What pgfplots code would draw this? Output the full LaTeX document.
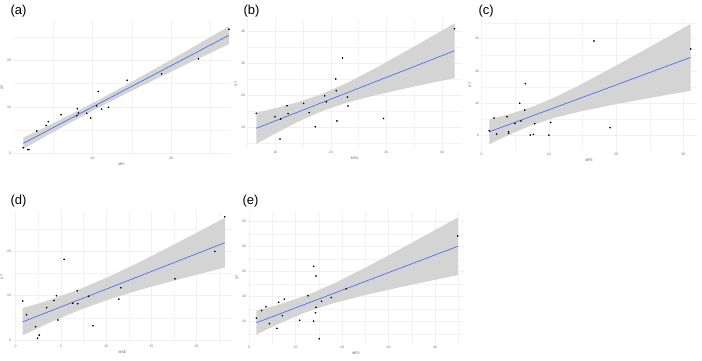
\documentclass[border=0pt]{standalone}
\usepackage{fontspec}
\setmainfont{Liberation Sans}
\usepackage{pgfplots}
\pgfplotsset{compat=1.18}
\definecolor{bandgray}{RGB}{212,212,212}
\definecolor{fitblue}{RGB}{51,102,255}
\definecolor{gridgray}{RGB}{240,240,240}
\pgfplotsset{panel/.style={scale only axis, anchor=south west,
  axis line style={draw=none}, tick style={draw=none},
  xmajorgrids, ymajorgrids, xminorgrids, yminorgrids,
  major grid style={draw=gridgray, line width=0.45pt},
  minor grid style={draw=gridgray!80, line width=0.3pt},
  tick label style={font=\fontsize{3.5}{4}\selectfont, text=black!55},
  label style={font=\fontsize{3.5}{4}\selectfont, text=black!65},
  /pgf/number format/assume math mode=true,
  xticklabel style={yshift=1.5pt}, yticklabel style={xshift=1.5pt},
  xlabel style={yshift=3pt}, ylabel style={yshift=-3pt}},
  mypts/.style={only marks, mark=*, mark size=0.6pt, black},
  myfit/.style={fitblue, line width=0.6pt, mark=none},
  myband/.style={draw=none, fill=bandgray, mark=none}}
\begin{document}
\begin{tikzpicture}
\useasboundingbox (0pt,0pt) rectangle (702pt,-360pt);
% (a)
\begin{axis}[panel, at={(13pt,-155pt)}, width=217pt, height=135pt,
  xmin=-0.18, xmax=27.53, ymin=-0.37, ymax=28.67,
  xtick={10,20}, minor xtick={5,15,25}, ytick={0,10,20}, minor ytick={5,15,25},
  xlabel={MPI}, ylabel={ST}]
\addplot[myband] coordinates {(1.14,3.35) (4,5.69) (8,9.06) (10,10.81) (14,14.44) (20,20.12) (27.4,27.29)
  (27.4,23.49) (20,17.56) (14,12.62) (10,9.17) (8,7.38) (4,3.67) (1.14,0.95)};
\addplot[myfit] coordinates {(1.14,2.15) (27.4,25.39)};
\addplot[mypts] coordinates {(1.14,1.2) (1.7,0.8) (1.85,0.8) (2.85,4.8) (4.04,6.0) (4.33,6.8) (5.95,8.3) (8.04,9.6) (8.17,8.7) (7.96,8.1) (9.23,8.6) (9.74,7.6) (10.5,10.2) (10.7,13.3) (11.15,9.5) (12.0,9.9) (14.4,15.7) (18.8,17.1) (23.5,20.3) (27.4,26.7)};
\end{axis}
% (b)
\begin{axis}[panel, at={(247pt,-149pt)}, width=215pt, height=130pt,
  xmin=4.9, xmax=43.64, ymin=3.08, ymax=43.96,
  xtick={10,20,30,40}, minor xtick={5,15,25,35}, ytick={10,20,30,40}, minor ytick={5,15,25,35},
  xlabel={MFA}, ylabel={ST}]
\addplot[myband] coordinates {(6.58,14.5) (10,15.92) (14,17.78) (18.5,20.44) (23,23.92) (28,28.47) (35,35.29) (42.3,42.59)
  (42.3,25.39) (35,22.73) (28,19.99) (23,17.70) (18.5,15.04) (14,11.56) (10,7.96) (6.58,4.7)};
\addplot[myfit] coordinates {(6.58,9.6) (42.3,33.99)};
\addplot[mypts] coordinates {(6.58,14.3) (9.95,13.2) (10.97,12.5) (10.85,6.2) (12.1,16.7) (12.3,14.2) (15.1,17.4) (16.1,14.5) (17.2,10.1) (18.9,19.8) (19.2,17.9) (20.9,25.1) (21.0,21.4) (21.1,11.9) (22.1,31.7) (23.0,19.4) (23.1,16.6) (29.5,12.7) (42.3,40.9)};
\end{axis}
% (c)
\begin{axis}[panel, at={(481pt,-151pt)}, width=216pt, height=132pt,
  xmin=-0.1, xmax=32.04, ymin=-4.98, ymax=36.14,
  xtick={0,10,20,30}, minor xtick={5,15,25}, ytick={0,10,20,30}, minor ytick={5,15,25,35},
  xlabel={MFE}, ylabel={ST}]
\addplot[myband] coordinates {(1.13,4.91) (4,6.41) (7.5,8.76) (11,11.83) (15,16.0) (20,21.62) (25,27.42) (31.1,34.6)
  (31.1,13.8) (25,11.54) (20,9.60) (15,7.48) (11,5.45) (7.5,3.10) (4,0.03) (1.13,-2.91)};
\addplot[myfit] coordinates {(1.13,1.0) (31.1,24.2)};
\addplot[mypts] coordinates {(1.13,1.35) (1.83,5.3) (2.23,0.3) (3.76,5.7) (4.0,1.0) (4.0,0.5) (4.96,3.6) (5.65,9.9) (5.85,4.4) (6.4,7.8) (6.5,16.0) (7.24,0.0) (7.7,0.2) (7.9,3.5) (10.0,0.0) (10.26,3.9) (16.7,29.3) (19.1,2.3) (31.1,26.8)};
\end{axis}
% (d)
\begin{axis}[panel, at={(13pt,-343pt)}, width=219pt, height=132pt,
  xmin=-0.3, xmax=23.9, ymin=-0.68, ymax=29.12,
  xtick={0,5,10,15,20}, minor xtick={2.5,7.5,12.5,17.5,22.5}, ytick={0,10,20}, minor ytick={5,15,25},
  xlabel={MSE}, ylabel={ST}]
\addplot[myband] coordinates {(0.77,7.16) (3.5,8.87) (7,11.43) (10.5,14.47) (14,17.90) (18,22.08) (23.1,27.56)
  (23.1,16.36) (18,13.68) (14,11.46) (10.5,9.29) (7,6.73) (3.5,3.69) (0.77,1.04)};
\addplot[myfit] coordinates {(0.77,4.1) (23.1,21.96)};
\addplot[mypts] coordinates {(0.77,8.8) (1.2,5.7) (2.2,3.0) (2.4,0.4) (2.6,1.1) (3.42,7.3) (4.23,8.9) (4.5,10.0) (4.67,4.5) (5.34,18.2) (6.3,8.3) (6.8,11.1) (6.85,8.2) (8.07,9.9) (8.54,3.2) (11.4,9.25) (11.6,11.8) (17.6,13.8) (22.0,20.0) (23.1,27.8)};
\end{axis}
% (e)
\begin{axis}[panel, at={(248pt,-344pt)}, width=216pt, height=133pt,
  xmin=-0.22, xmax=46.24, ymin=0.92, ymax=54.12,
  xtick={0,10,20,30,40}, minor xtick={5,15,25,35,45}, ytick={10,20,30,40,50}, minor ytick={5,15,25,35,45},
  xlabel={MFS}, ylabel={ST}]
\addplot[myband] coordinates {(1.58,14.26) (6,16.45) (12,20.12) (18,24.91) (25,31.43) (32,38.37) (38,44.44) (44.9,51.49)
  (44.9,28.49) (38,25.82) (32,23.43) (25,20.49) (18,17.15) (12,13.48) (6,8.69) (1.58,4.64)};
\addplot[myfit] coordinates {(1.58,9.45) (44.9,39.99)};
\addplot[mypts] coordinates {(1.58,11.3) (2.72,14.3) (3.66,15.8) (4.37,9.1) (6.0,7.2) (6.38,17.6) (7.17,12.3) (7.6,18.9) (10.9,10.4) (12.7,20.2) (13.9,32.0) (13.9,10.1) (14.3,13.4) (14.4,15.6) (14.4,28.1) (15.1,3.0) (15.6,18.0) (17.7,19.5) (20.9,23.0) (44.9,44.1)};
\end{axis}
\node[anchor=west, font=\fontsize{13}{13}\selectfont] at (7pt,-11pt) {(a)};
\node[anchor=west, font=\fontsize{13}{13}\selectfont] at (240pt,-11pt) {(b)};
\node[anchor=west, font=\fontsize{13}{13}\selectfont] at (475pt,-11pt) {(c)};
\node[anchor=west, font=\fontsize{13}{13}\selectfont] at (7pt,-201pt) {(d)};
\node[anchor=west, font=\fontsize{13}{13}\selectfont] at (239pt,-201pt) {(e)};
\end{tikzpicture}
\end{document}
